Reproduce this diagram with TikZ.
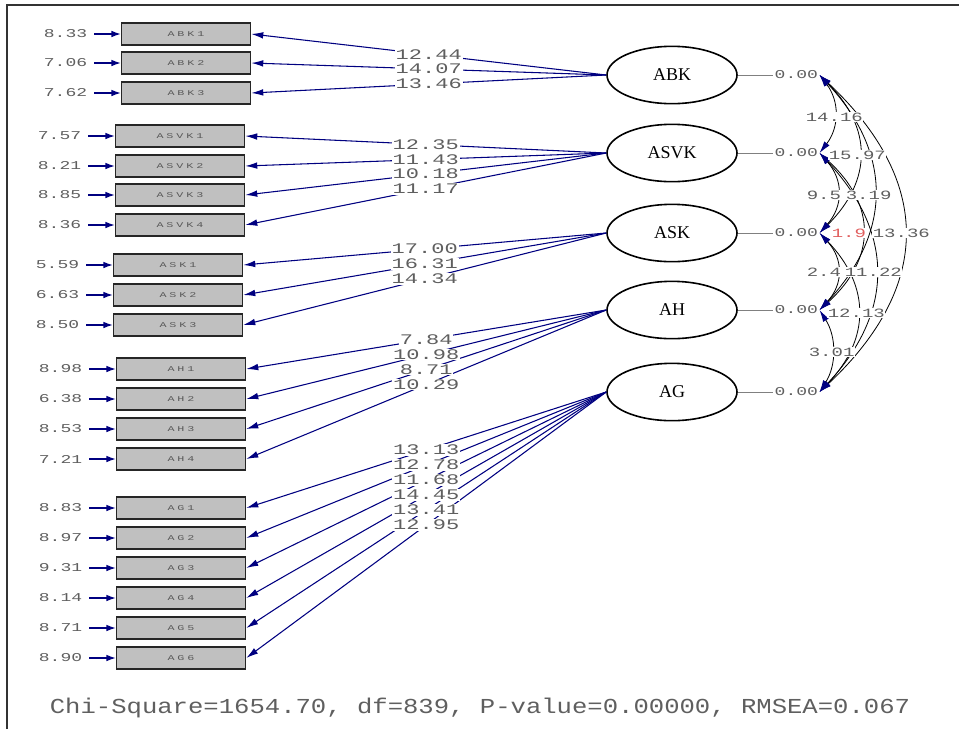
\documentclass[tikz,border=0pt]{standalone}
\usepackage{fontspec}
\setmainfont{Liberation Serif}
\newfontfamily\lmono[FakeStretch=1.5]{Liberation Mono}
\newfontfamily\bmono[FakeStretch=1.2]{Liberation Mono}
\newfontfamily\tmono[FakeStretch=1.6,LetterSpace=40]{Liberation Mono}
\usetikzlibrary{arrows.meta,positioning,shapes.geometric}
\definecolor{navy}{RGB}{0,0,128}
\definecolor{txtgray}{RGB}{95,95,95}
\definecolor{boxgray}{RGB}{192,192,192}
\definecolor{corred}{RGB}{225,95,95}
\begin{document}
\begin{tikzpicture}[x=0.75pt,y=-0.75pt,
  ind/.style={rectangle,draw=black!85,line width=0.9pt,fill=boxgray,minimum width=97pt,minimum height=16.5pt,inner sep=0pt,font=\tmono\fontsize{5.5}{6}\selectfont,text=black!65},
  lat/.style={ellipse,draw=black,line width=1.2pt,minimum width=97.5pt,minimum height=43pt,inner sep=0pt,font=\fontsize{13.5}{15}\selectfont},
  errlbl/.style={inner sep=1pt,font=\lmono\fontsize{9}{10}\selectfont,text=txtgray},
  lbl/.style={fill=white,inner sep=0.6pt,font=\lmono\fontsize{11}{12}\selectfont,text=txtgray},
  clbl/.style={fill=white,inner sep=0.4pt,anchor=west,font=\lmono\fontsize{9.5}{11}\selectfont,text=txtgray},
  load/.style={draw=navy,line width=0.8pt,-{Latex[length=9pt,width=5pt,color=navy]}},
  errarr/.style={draw=navy,line width=0.9pt,-{Latex[length=7pt,width=5pt,color=navy]},shorten <=4pt},
  corr/.style={draw=black,line width=0.6pt,{Latex[length=9pt,width=5pt,color=navy]}-{Latex[length=9pt,width=5pt,color=navy]}},
  zer/.style={inner sep=1pt,anchor=west,font=\lmono\fontsize{9}{10}\selectfont,text=txtgray},
  zline/.style={draw=gray,line width=0.4pt},
  fitlbl/.style={inner sep=1pt,font=\bmono\fontsize{16}{18}\selectfont,text=txtgray},
  frame/.style={draw=black!80,line width=1.2pt}
]
\useasboundingbox (0,0) rectangle (959,729);
\draw[frame] (7,729) -- (7,5) -- (959,5);

% latent variables
\node[lat] (ABK)  at (672,75)  {ABK};
\node[lat] (ASVK) at (672,153) {ASVK};
\node[lat] (ASK)  at (672,233) {ASK};
\node[lat] (AH)   at (672,310) {AH};
\node[lat] (AG)   at (672,392) {AG};

% indicators with error variances
\foreach \n/\x/\y/\e in {ABK1/186/34/8.33, ABK2/186/63/7.06, ABK3/186/93/7.62,
  ASVK1/180/136/7.57, ASVK2/180/166/8.21, ASVK3/180/195/8.85, ASVK4/180/225/8.36,
  ASK1/178/265/5.59, ASK2/178/295/6.63, ASK3/178/325/8.50,
  AH1/181/369/8.98, AH2/181/399/6.38, AH3/181/429/8.53, AH4/181/459/7.21,
  AG1/181/508/8.83, AG2/181/538/8.97, AG3/181/568/9.31, AG4/181/598/8.14, AG5/181/628/8.71, AG6/181/658/8.90}
{
  \node[ind] (\n) at (\x,\y) {\n};
  \node[errlbl,left=24pt of \n] (e\n) {\e};
  \draw[errarr] (e\n) -- (\n);
}

% loadings
\foreach \l/\i in {ABK/ABK1, ABK/ABK2, ABK/ABK3,
  ASVK/ASVK1, ASVK/ASVK2, ASVK/ASVK3, ASVK/ASVK4,
  ASK/ASK1, ASK/ASK2, ASK/ASK3,
  AH/AH1, AH/AH2, AH/AH3, AH/AH4,
  AG/AG1, AG/AG2, AG/AG3, AG/AG4, AG/AG5, AG/AG6}
{
  \draw[load] (\l.west) -- coordinate[midway] (m\i) (\i.east);
}
\foreach \i/\v in {ABK1/12.44, ABK2/14.07, ABK3/13.46,
  ASVK1/12.35, ASVK2/11.43, ASVK3/10.18, ASVK4/11.17,
  ASK1/17.00, ASK2/16.31, ASK3/14.34,
  AH1/7.84, AH2/10.98, AH3/8.71, AH4/10.29,
  AG1/13.13, AG2/12.78, AG3/11.68, AG4/14.45, AG5/13.41, AG6/12.95}
{
  \node[lbl] (l\i) at (m\i) {\v};
}

% zero values
\foreach \l in {ABK,ASVK,ASK,AH,AG}
{
  \node[zer] (z\l) at ([xshift=26.5pt]\l.east) {0.00};
  \draw[zline] (\l.east) -- (z\l.west);
}

% correlations
\draw[corr] (zABK.east)  .. controls +(20,26)  and +(20,-26)  .. (zASVK.east);
\draw[corr] (zABK.east)  .. controls +(53,53)  and +(53,-53)  .. (zASK.east);
\draw[corr] (zABK.east)  .. controls +(73,78)  and +(73,-78)  .. (zAH.east);
\draw[corr] (zABK.east)  .. controls +(113,106) and +(113,-106) .. (zAG.east);
\draw[corr] (zASVK.east) .. controls +(24,27)  and +(24,-27)  .. (zASK.east);
\draw[corr] (zASVK.east) .. controls +(57,52)  and +(57,-52)  .. (zAH.east);
\draw[corr] (zASVK.east) .. controls +(75,80)  and +(75,-80)  .. (zAG.east);
\draw[corr] (zASK.east)  .. controls +(24,26)  and +(24,-26)  .. (zAH.east);
\draw[corr] (zASK.east)  .. controls +(51,53)  and +(51,-53)  .. (zAG.east);
\draw[corr] (zAH.east)   .. controls +(17,27)  and +(17,-27)  .. (zAG.east);

\node[clbl] (c1)  at (805,117) {14.16};
\node[clbl] (c2)  at (828,155) {15.97};
\node[clbl] (c3)  at (806,195) {9.5};
\node[clbl] (c4)  at (845,195) {3.19};
\node[clbl,text=corred] (c5) at (831,233) {1.9};
\node[clbl] (c6)  at (872,233) {13.36};
\node[clbl] (c7)  at (806,272) {2.4};
\node[clbl] (c8)  at (844,272) {11.22};
\node[clbl] (c9)  at (827,313) {12.13};
\node[clbl] (c10) at (808,352) {3.01};

% fit statistics
\node[fitlbl] (fit) at (480,708) {Chi-Square=1654.70, df=839, P-value=0.00000, RMSEA=0.067};
\end{tikzpicture}
\end{document}
